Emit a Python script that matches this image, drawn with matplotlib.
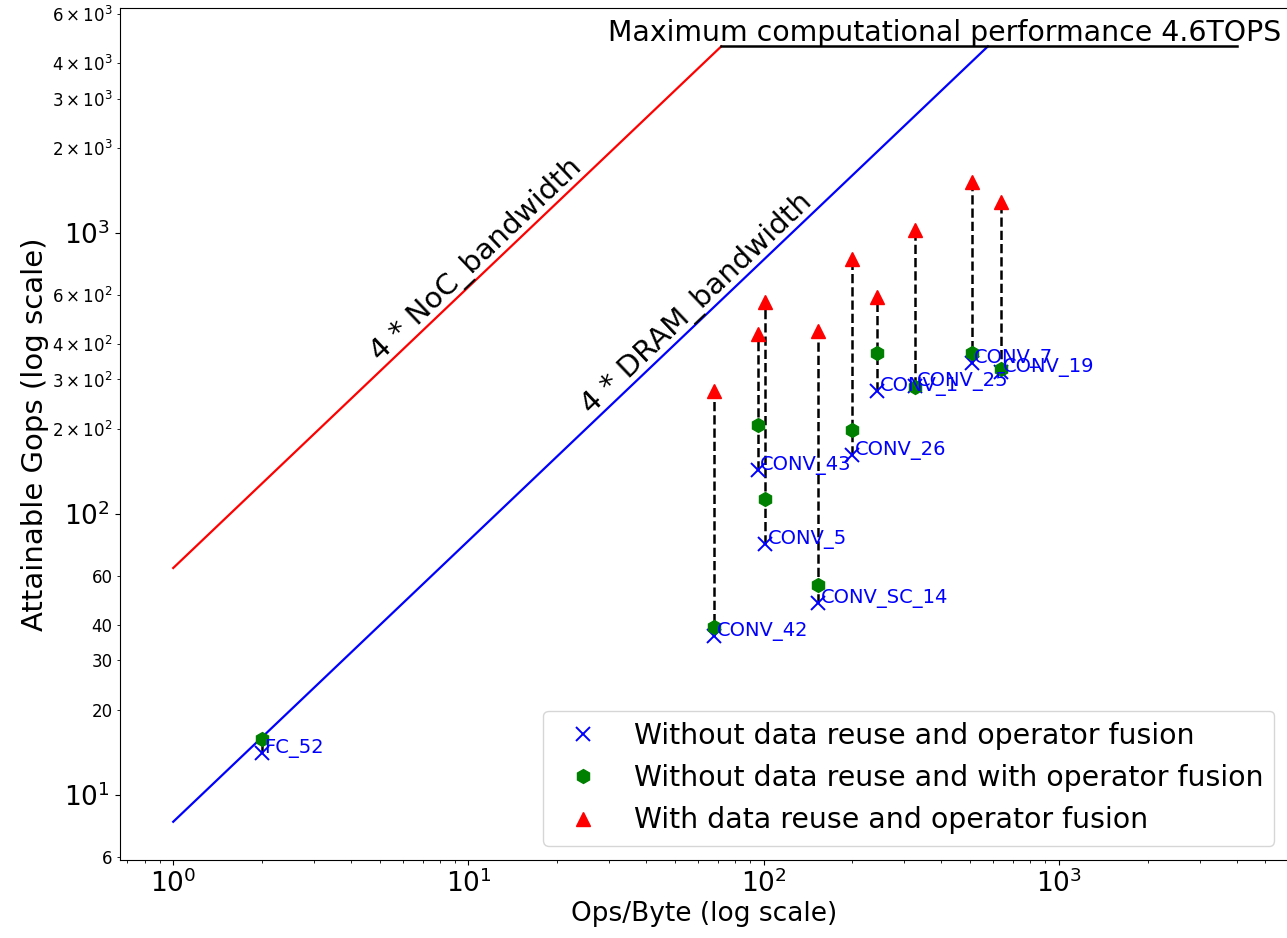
import math
import matplotlib
matplotlib.use("Agg")
import matplotlib.pyplot as plt
from matplotlib.ticker import FixedLocator, FixedFormatter

# roofline parameters
peak_gops = 4600
noc_bw = 64
dram_bw = 8
x_peak_end = 4000

layers = ['FC_52', 'CONV_42', 'CONV_43', 'CONV_5', 'CONV_SC_14',
          'CONV_26', 'CONV_1', 'CONV_25', 'CONV_7', 'CONV_19']
ops_per_byte = [2, 68, 95.5, 101, 153, 200, 243, 325, 507, 636]
gops_base = [14, 36.8, 143, 77.6, 47.9, 162, 274, 285, 344, 320]
gops_fused = [15.8, 39.6, 207, 113, 55.5, 199, 374, 281, 374, 328]
gops_reuse = [None, 274, 437, 568, 448, 807, 592, 1025, 1517, 1288]

y_minor_ticks = [6, 20, 30, 40, 60, 200, 300, 400, 600, 2000, 3000, 4000, 6000]
y_minor_labels = ['6', '20', '30', '40', '60',
                  r'$2\times10^{2}$', r'$3\times10^{2}$', r'$4\times10^{2}$', r'$6\times10^{2}$',
                  r'$2\times10^{3}$', r'$3\times10^{3}$', r'$4\times10^{3}$', r'$6\times10^{3}$']

legend_labels = ['Without data reuse and operator fusion',
                 'Without data reuse and with operator fusion',
                 'With data reuse and operator fusion']

fig = plt.figure(figsize=(12.87, 9.38), dpi=100)
ax = fig.add_axes([0.0932, 0.0832, 0.908, 0.9083])
ax.set_xscale('log')
ax.set_yscale('log')

# roofs
x_noc_end = peak_gops / noc_bw
x_dram_end = peak_gops / dram_bw
ax.plot([1, x_noc_end], [noc_bw, peak_gops], color='red', lw=1.6)
ax.plot([1, x_dram_end], [dram_bw, peak_gops], color='blue', lw=1.6)
ax.plot([x_noc_end, x_peak_end], [peak_gops, peak_gops], color='black', lw=1.8)

# improvement lines
for i, name in enumerate(layers):
    top = gops_reuse[i] if gops_reuse[i] is not None else gops_fused[i]
    ax.plot([ops_per_byte[i], ops_per_byte[i]], [gops_base[i], top],
            color='black', ls='--', lw=1.8, zorder=2)

x_r = [x for x, g in zip(ops_per_byte, gops_reuse) if g is not None]
g_r = [g for g in gops_reuse if g is not None]
ax.plot(ops_per_byte, gops_base, 'x', color='blue', ms=10, mew=1.4,
        label=legend_labels[0], zorder=3)
ax.plot(ops_per_byte, gops_fused, 'h', color='green', ms=10,
        label=legend_labels[1], zorder=3)
ax.plot(x_r, g_r, '^', color='red', ms=10, label=legend_labels[2], zorder=3)

for i, name in enumerate(layers):
    ax.text(ops_per_byte[i] * 1.02, gops_base[i], name, color='blue', fontsize=14)

ax.set_xlim(0.66, 6000)
ax.set_ylim(5.85, 6300)

# angle of the bandwidth lines on screen
p1 = ax.transData.transform((1, 8))
p2 = ax.transData.transform((1000, 8000))
ang = math.degrees(math.atan2(p2[1] - p1[1], p2[0] - p1[0]))

ax.text(5.2, noc_bw * 5.2, '4 * NoC_bandwidth', fontsize=21, rotation=ang,
        rotation_mode='anchor', ha='left', va='bottom')
ax.text(27, dram_bw * 27, '4 * DRAM_bandwidth', fontsize=21, rotation=ang,
        rotation_mode='anchor', ha='left', va='bottom')
ax.text(29.6, 4800, 'Maximum computational performance 4.6TOPS', fontsize=20.4,
        ha='left', va='baseline')

ax.yaxis.set_minor_locator(FixedLocator(y_minor_ticks))
ax.yaxis.set_minor_formatter(FixedFormatter(y_minor_labels))
ax.tick_params(axis='both', which='major', labelsize=19)
ax.tick_params(axis='y', which='minor', labelsize=12)

ax.set_xlabel('Ops/Byte (log scale)', fontsize=19, labelpad=2)
ax.set_ylabel('Attainable Gops (log scale)', fontsize=21, labelpad=2)

ax.legend(loc='lower right', fontsize=20.4, numpoints=1)

fig.savefig('out.png', dpi=100)
